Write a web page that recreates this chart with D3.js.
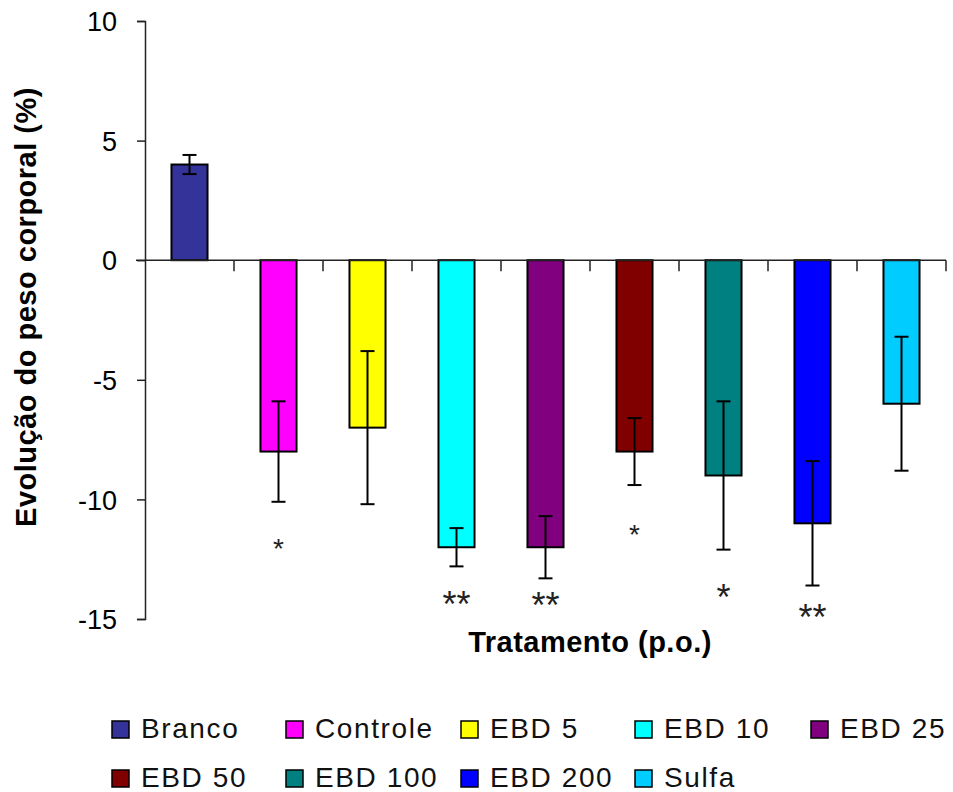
<!DOCTYPE html>
<html>
<head>
<meta charset="utf-8">
<script src="https://cdn.jsdelivr.net/npm/d3@7/dist/d3.min.js"></script>
<style>
  html, body { margin: 0; padding: 0; background: #fff; }
  svg { display: block; }
  text { font-family: "Liberation Sans", Arial, sans-serif; }
</style>
</head>
<body>
<div id="chart"></div>
<script>
// ---- data ----
const categories = ["Branco", "Controle", "EBD 5", "EBD 10", "EBD 25", "EBD 50", "EBD 100", "EBD 200", "Sulfa"];
const values     = [4.0, -8.0, -7.0, -12.0, -12.0, -8.0, -9.0, -11.0, -6.0];
const errors     = [0.4, 2.1, 3.2, 0.8, 1.3, 1.4, 3.1, 2.6, 2.8];
const colors     = ["#333399", "#FF00FF", "#FFFF00", "#00FFFF", "#800080", "#800000", "#008080", "#0000FF", "#00CCFF"];
const sigLabels  = ["", "*", "", "**", "**", "*", "*", "**", ""];
const sigY       = [null, -11.8, null, -14.05, -14.1, -11.2, -13.75, -14.6, null];
const yTicks     = [10, 5, 0, -5, -10, -15];

const W = 953, H = 792;
const svg = d3.select("#chart").append("svg").attr("width", W).attr("height", H);

const x = d3.scaleBand().domain(categories).range([145, 946]).padding(0);
const y = d3.scaleLinear().domain([-15, 10]).range([619, 21]);
const barW = x.bandwidth() * 0.405;

// bars
svg.selectAll("rect.bar").data(categories).enter().append("rect")
  .attr("class", "bar")
  .attr("x", (d) => x(d) + x.bandwidth() / 2 - barW / 2)
  .attr("y", (d, i) => Math.min(y(values[i]), y(0)))
  .attr("width", barW)
  .attr("height", (d, i) => Math.abs(y(values[i]) - y(0)))
  .attr("fill", (d, i) => colors[i])
  .attr("stroke", "#000")
  .attr("stroke-width", 2);

// y axis
const yAxis = d3.axisLeft(y).tickValues(yTicks).tickSize(8).tickPadding(20).tickFormat(d => String(d));
const gy = svg.append("g").attr("transform", "translate(145,0)").call(yAxis);
gy.select(".domain").attr("stroke", "#222").attr("stroke-width", 1.5);
gy.selectAll(".tick line").attr("stroke", "#222").attr("stroke-width", 1.5);
gy.selectAll(".tick text").attr("font-size", 27).attr("fill", "#000")
  .attr("font-family", "Liberation Sans, Arial, sans-serif").attr("dy", "0.36em");

// x axis at zero, ticks at category boundaries
const boundaries = categories.map(c => x(c)).concat([x.range()[1]]);
svg.append("line").attr("x1", 136).attr("x2", 946).attr("y1", y(0)).attr("y2", y(0))
  .attr("stroke", "#222").attr("stroke-width", 1.5);
svg.selectAll("line.xt").data(boundaries.slice(1)).enter().append("line")
  .attr("class", "xt")
  .attr("x1", d => d).attr("x2", d => d)
  .attr("y1", y(0)).attr("y2", y(0) + 11)
  .attr("stroke", "#222").attr("stroke-width", 1.5);

// error bars
const capW = 14;
const eg = svg.append("g").attr("stroke", "#000").attr("stroke-width", 2);
categories.forEach((c, i) => {
  const cx = x(c) + x.bandwidth() / 2;
  const y1 = y(values[i] + errors[i]), y2 = y(values[i] - errors[i]);
  eg.append("line").attr("x1", cx).attr("x2", cx).attr("y1", y1).attr("y2", y2);
  eg.append("line").attr("x1", cx - capW / 2).attr("x2", cx + capW / 2).attr("y1", y1).attr("y2", y1);
  eg.append("line").attr("x1", cx - capW / 2).attr("x2", cx + capW / 2).attr("y1", y2).attr("y2", y2);
});

// significance marks
categories.forEach((c, i) => {
  if (!sigLabels[i]) return;
  const small = (i === 1 || i === 5);
  const fs = small ? 28 : 36;
  svg.append("text")
    .attr("x", x(c) + x.bandwidth() / 2)
    .attr("y", y(sigY[i]) + fs * 0.57)
    .attr("text-anchor", "middle")
    .attr("font-size", fs)
    .attr("fill", "#222")
    .text(sigLabels[i]);
});

// axis titles
svg.append("text")
  .attr("transform", "translate(36,307) rotate(-90)")
  .attr("text-anchor", "middle")
  .attr("font-size", 29).attr("font-weight", "bold").attr("letter-spacing", 0.5)
  .text("Evolução do peso corporal (%)");
svg.append("text")
  .attr("x", 590).attr("y", 652)
  .attr("text-anchor", "middle")
  .attr("font-size", 29).attr("font-weight", "bold").attr("letter-spacing", 0.5)
  .text("Tratamento (p.o.)");

// legend
const legCols = [112, 286, 461, 635, 811];
const legRows = [721, 770];
const lg = svg.append("g");
categories.forEach((c, i) => {
  const col = i % 5, row = Math.floor(i / 5);
  const lx = legCols[col], ly = legRows[row];
  lg.append("rect").attr("x", lx).attr("y", ly).attr("width", 17).attr("height", 17)
    .attr("fill", colors[i]).attr("stroke", "#000").attr("stroke-width", 1.5);
  lg.append("text").attr("x", lx + 29).attr("y", ly + 17)
    .attr("font-size", 28).attr("letter-spacing", 1.6).attr("fill", "#111")
    .text(c);
});
</script>
</body>
</html>
